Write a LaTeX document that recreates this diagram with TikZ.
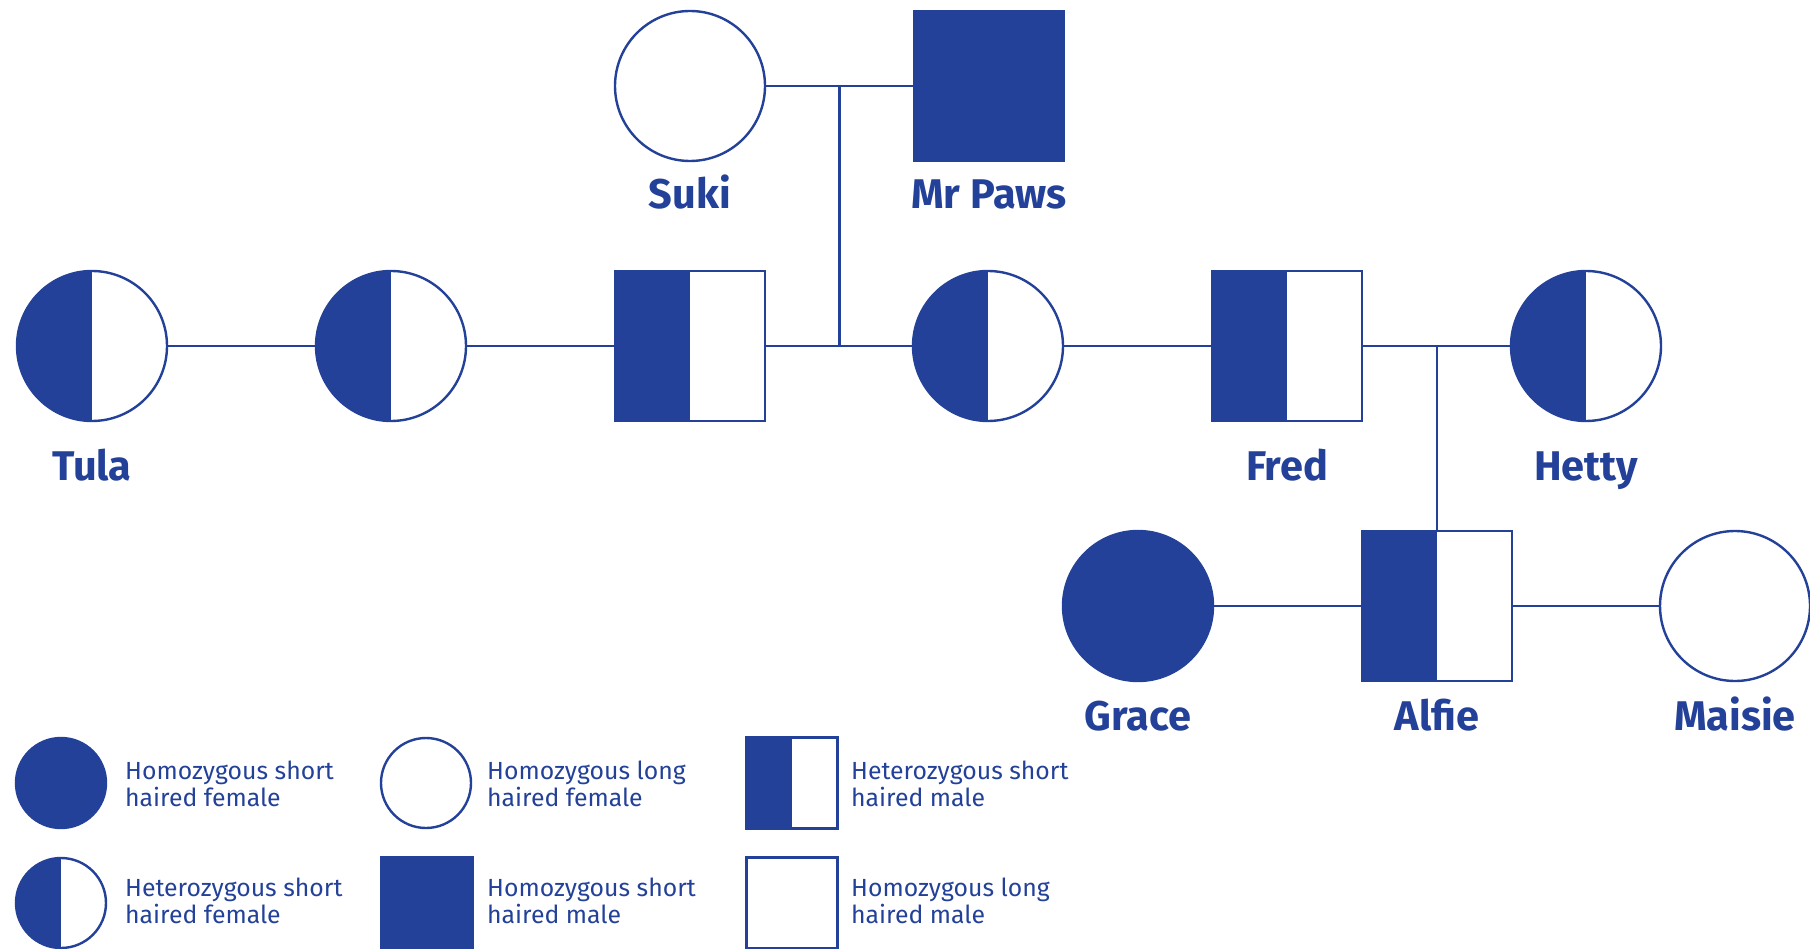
\documentclass[tikz,border=0pt]{standalone}
\usepackage{fontspec}
\setmainfont{Fira Sans}
\usetikzlibrary{calc}
\definecolor{pblue}{RGB}{35,65,152}

\tikzset{
  ind/.style={draw=pblue, line width=2.4pt, inner sep=0pt, outer sep=0pt, fill=white},
  fem/.style={ind, circle, minimum size=150pt},
  mal/.style={ind, rectangle, minimum size=150pt},
  full/.style={fill=pblue},
  half/.style={path picture={\fill[pblue] (path picture bounding box.south west) rectangle (path picture bounding box.north);}},
  lfem/.style={ind, circle, minimum size=90pt},
  lmal/.style={ind, rectangle, minimum size=91pt},
  petname/.style={text=pblue, font=\fontsize{41.5}{45}\selectfont\bfseries, anchor=base, inner sep=0pt},
  key/.style={text=pblue, font=\fontsize{24.8}{26.5}\selectfont, anchor=base west, align=left, inner sep=0pt},
  link/.style={draw=pblue, line width=2.4pt},
}

\begin{document}
\begin{tikzpicture}[x=1pt, y=-1pt]
\useasboundingbox (0,0) rectangle (1810,949);
\clip (0,0) rectangle (1810,949);

% generation 1
\node[fem] (suki) at (690,86) {};
\node[mal, full] (paws) at (989,86) {};
% generation 2
\node[fem, half] (tula) at (92,346) {};
\node[fem, half] (f2) at (391,346) {};
\node[mal, half] (m3) at (690,346) {};
\node[fem, half] (f4) at (988,346) {};
\node[mal, half] (fred) at (1287,346) {};
\node[fem, half] (hetty) at (1586,346) {};
% generation 3
\node[fem, full] (grace) at (1138,606) {};
\node[mal, half] (alfie) at (1437,606) {};
\node[fem] (maisie) at (1735,606) {};

% names
\node[petname] (suki-n) at (690,209) {Suki};
\node[petname] (paws-n) at (989,209) {Mr Paws};
\node[petname] (tula-n) at (92,480) {Tula};
\node[petname] (fred-n) at (1287,480) {Fred};
\node[petname] (hetty-n) at (1586,480) {Hetty};
\node[petname] (grace-n) at (1138,730) {Grace};
\node[petname] (alfie-n) at (1437,730) {Alfie};
\node[petname] (maisie-n) at (1735,730) {Maisie};

% partnerships and descent
\coordinate (c1) at ($(suki.east)!0.5!(paws.west)$);
\coordinate (c2) at (c1 |- m3.east);
\draw[link] (suki) -- (paws);
\draw[link] (c1) -- (c2);
\draw[link] (tula) -- (f2);
\draw[link] (f2) -- (m3);
\draw[link] (m3) -- (f4);
\draw[link] (f4) -- (fred);
\draw[link] (fred) -- (hetty);
\coordinate (c3) at (alfie.north |- fred.east);
\draw[link] (c3) -- (alfie.north);
\draw[link] (grace) -- (alfie);
\draw[link] (alfie) -- (maisie);

% key (base anchor sits on the second line)
\node[lfem, full] (k1) at (61,783) {};
\node[key] (k1t) at (125,806) {Homozygous short\\haired female};
\node[lfem] (k2) at (426,783) {};
\node[key] (k2t) at (487,806) {Homozygous long\\haired female};
\node[lmal, half] (k3) at (792,783) {};
\node[key] (k3t) at (851,806) {Heterozygous short\\haired male};
\node[lfem, half] (k4) at (61,903) {};
\node[key] (k4t) at (125,923) {Heterozygous short\\haired female};
\node[lmal, full] (k5) at (427,903) {};
\node[key] (k5t) at (487,923) {Homozygous short\\haired male};
\node[lmal] (k6) at (792,903) {};
\node[key] (k6t) at (851,923) {Homozygous long\\haired male};
\end{tikzpicture}
\end{document}
